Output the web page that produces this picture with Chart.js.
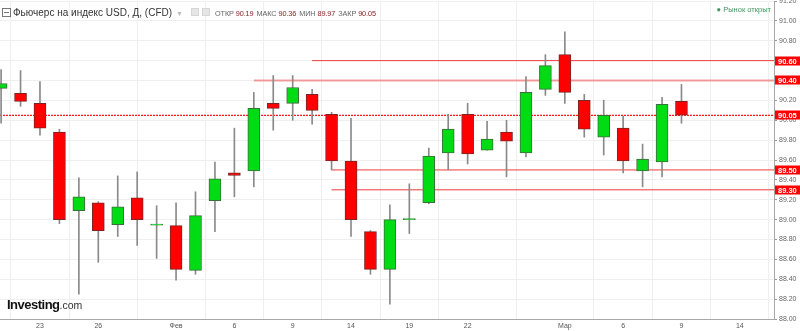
<!DOCTYPE html>
<html><head><meta charset="utf-8">
<script src="https://cdn.jsdelivr.net/npm/chart.js@4.4.0/dist/chart.umd.min.js"></script>
<style>
html,body{margin:0;padding:0;background:#fff;}
#wrap{position:relative;width:800px;height:331px;overflow:hidden;font-family:"Liberation Sans",Arial,sans-serif;}
#c{position:absolute;left:0;top:0;}
#hdr{position:absolute;left:2px;top:4px;white-space:nowrap;height:14px;line-height:14px;}
#hdr .sq{display:inline-block;width:7px;height:7px;border:1px solid #777;position:relative;vertical-align:-1px;margin-right:2px;}
#hdr .sq:after{content:"";position:absolute;left:1px;right:1px;top:3px;height:1px;background:#777;}
#hdr .ttl{font-size:10px;color:#333;}
#hdr .arr{font-size:7px;color:#bbb;margin-left:4px;}
#hdr .ic{display:inline-block;width:6px;height:6px;background:#e6e6e6;border:1px solid #d6d6d6;margin-left:3px;vertical-align:0px;}
#hdr .ohlc{font-size:7.3px;margin-left:5px;letter-spacing:-0.1px;}
#hdr .k{color:#666;}
#hdr .v{color:#8b2323;margin-right:3px;}
#mkt{position:absolute;right:29px;top:4px;font-size:7.5px;color:#3c9a5f;white-space:nowrap;line-height:12px;}
#logo{position:absolute;left:7px;top:297px;white-space:nowrap;line-height:14px;}
#logo .b{font-size:13px;font-weight:bold;color:#111;letter-spacing:-0.5px;}
#logo .s{font-size:10.5px;color:#333;}
</style></head>
<body><div id="wrap">
<canvas id="c" width="800" height="331"></canvas>
<div id="hdr"><span class="sq"></span><span class="ttl">Фьючерс на индекс USD, Д, (CFD)</span><span class="arr">▼</span><span class="ic" style="margin-left:8px"></span><span class="ic"></span><span class="ohlc"><span class="k">ОТКР </span><span class="v">90.19</span><span class="k">МАКС </span><span class="v">90.36</span><span class="k">МИН </span><span class="v">89.97</span><span class="k">ЗАКР </span><span class="v">90.05</span></span></div>
<div id="mkt">● Рынок открыт</div>
<div id="logo"><span class="b">Investing</span><span class="s">.com</span></div>
</div>
<script>
// Trading days (index = position on the x axis)
const dates = ['19.01','22.01','23.01','24.01','25.01','26.01','29.01','30.01','31.01','01.02','02.02','05.02','06.02','07.02','08.02','09.02','12.02','13.02','14.02','15.02','16.02','19.02','20.02','21.02','22.02','23.02','26.02','27.02','28.02','01.03','02.03','05.03','06.03','07.03','08.03','09.03'];
const openV  = [90.32,90.27,90.17,89.88,89.09,89.17,88.95,89.22,88.945,88.94,88.49,89.19,89.47,89.49,90.17,90.17,90.26,90.06,89.59,88.88,88.50,89.00,89.17,89.67,90.06,89.70,89.88,89.67,90.31,90.66,90.20,89.83,89.92,89.49,89.58,90.19];
const highV  = [90.51,90.50,90.39,89.91,89.42,89.18,89.44,89.48,89.14,89.17,89.28,89.58,89.92,90.28,90.45,90.45,90.31,90.08,90.02,88.89,89.15,89.36,89.72,90.06,90.17,89.99,90.00,90.44,90.66,90.89,90.26,90.20,90.04,89.76,90.23,90.36];
const lowV   = [89.97,90.14,89.85,88.96,88.25,88.57,88.83,88.74,88.61,88.39,88.45,88.88,89.23,89.33,89.90,90.00,89.96,89.50,88.83,88.45,88.15,88.86,89.16,89.50,89.56,89.70,89.43,89.63,90.25,90.17,89.83,89.65,89.47,89.33,89.43,89.97];
const closeV = [90.37,90.19,89.92,89.00,89.23,88.89,89.13,89.00,88.955,88.50,89.04,89.41,89.445,90.12,90.12,90.33,90.10,89.59,89.00,88.50,89.00,89.005,89.64,89.91,89.66,89.81,89.79,90.28,90.55,90.28,89.91,90.05,89.59,89.61,90.16,90.05];
// X tick labels
const tickIdx  = [2,5,9,12,15,18,21,24,29,32,35,38];
const tickText = ['23','26','Фев','6','9','14','19','22','Мар','6','9','14'];
// Horizontal levels
const levelValues = [90.60, 90.40, 90.05, 89.50, 89.30];
const levelStart  = [16, 13, null, 17, 17];
const levelLabels = ['90.60','90.40','90.05','89.50','89.30'];

const X_MIN = -0.057, X_MAX = 39.76;
const UP = '#00dc14', DOWN = '#ff0000';
const isUp = closeV.map((c,i)=>c>=openV[i]);

const wickData = dates.map((d,i)=>({x:i, y:[lowV[i], highV[i]]}));
const bodyData = dates.map((d,i)=>({x:i, y:[openV[i], closeV[i]]}));

const lineSets = levelValues.map((v,k)=>({
  type:'line',
  data:[{x: levelStart[k]===null ? X_MIN : levelStart[k], y:v},{x:X_MAX, y:v}],
  borderColor: k===1 ? 'rgba(238,80,80,0.55)' : (k===2 ? '#ff1a1a' : '#ee3b3b'),
  borderWidth: k===1 ? 2 : (k===2 ? 1.3 : 1),
  borderDash: k===2 ? [2,1] : [],
  pointRadius:0, fill:false, order:10
}));

const levelTags = {
  id:'levelTags',
  afterDraw(chart){
    const y = chart.scales.y, ctx = chart.ctx;
    ctx.save();
    levelValues.forEach((v,k)=>{
      const py = Math.round(y.getPixelForValue(v));
      ctx.fillStyle = '#ff0000';
      ctx.fillRect(775, py-4.5, 25, 9);
      ctx.fillStyle = '#fff';
      ctx.font = 'bold 7.5px "Liberation Sans", Arial, sans-serif';
      ctx.textBaseline = 'middle';
      ctx.textAlign = 'left';
      ctx.fillText(levelLabels[k], 778, py+0.5);
    });
    ctx.restore();
  }
};

new Chart(document.getElementById('c'), {
  type:'bar',
  data:{
    datasets:[
      {data:wickData, backgroundColor:'#8a8a8a', borderWidth:0, barThickness:1, grouped:false, order:2},
      {data:bodyData, backgroundColor:isUp.map(u=>u?UP:DOWN), borderColor:isUp.map(u=>u?'#3b6e3b':'#7e2424'), borderWidth:1, borderSkipped:false, barThickness:12, minBarLength:1, grouped:false, order:1},
      ...lineSets
    ]
  },
  options:{
    responsive:false, animation:false, devicePixelRatio:1,
    layout:{padding:{left:0,right:0,top:1,bottom:0}},
    plugins:{legend:{display:false}, tooltip:{enabled:false}},
    scales:{
      x:{
        type:'linear', min:X_MIN, max:X_MAX, offset:false,
        grid:{color:'#efefef', drawTicks:false},
        border:{color:'#a8a8a8'},
        afterBuildTicks(s){ s.ticks = tickIdx.map(v=>({value:v})); },
        ticks:{autoSkip:false, maxRotation:0, padding:3, color:'#555', font:{size:7, family:'"Liberation Sans", Arial, sans-serif'},
          callback:(v)=>{const j=tickIdx.indexOf(v); return j>=0?tickText[j]:'';}},
        afterFit(s){ s.height = 12; s.paddingLeft = 0; s.paddingRight = 0; }
      },
      y:{
        position:'right', min:88, max:91.2,
        grid:{color:'#efefef', tickColor:'#9a9a9a', tickLength:3},
        border:{color:'#a8a8a8'},
        ticks:{stepSize:0.2, padding:2, color:'#666', font:{size:7, family:'"Liberation Sans", Arial, sans-serif'},
          callback:(v)=>Number(v).toFixed(2)},
        afterFit(s){ s.width = 26; s.paddingTop = 0; s.paddingBottom = 0; }
      }
    }
  },
  plugins:[levelTags]
});
</script>
</body></html>
